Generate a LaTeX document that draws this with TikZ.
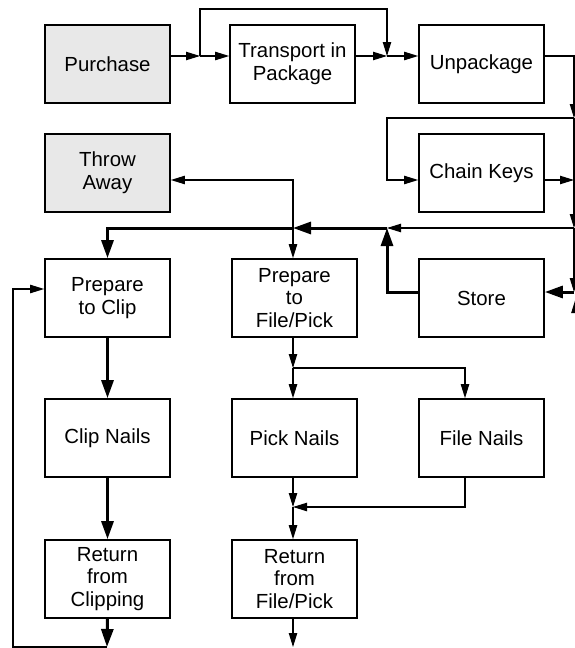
\documentclass[tikz,border=0pt]{standalone}
\usepackage{fontspec}
\setmainfont{Liberation Sans}
\usepackage{tikz}
\usetikzlibrary{arrows.meta,calc,positioning}

\begin{document}
\begin{tikzpicture}[x=0.5pt, y=-0.5pt,
    box/.style={draw, line width=0.85pt, minimum width=62.5pt,
      minimum height=39pt, inner sep=0pt, align=center,
      font=\fontsize{10.2}{11.3}\selectfont},
    shaded/.style={box, fill=black!9},
    arr/.style={line width=0.55pt, -{Triangle[length=7pt,width=4.2pt]}},
    tarr/.style={line width=1.5pt, -{Triangle[length=9pt,width=6pt]}}]
  \useasboundingbox (0,0) rectangle (574,648);
  % Boxes, row by row
  \node[shaded] (purchase) at (107.5,64) {Purchase};
  \node[box] (transport) at (292.5,64) {Transport in\\Package};
  \node[box] (unpack) at (481.5,64) {Unpackage};
  \node[shaded] (throw) at (107.5,173) {Throw\\Away};
  \node[box] (chain) at (481.5,173) {Chain Keys};
  \node[box] (prepclip) at (107.5,298) {Prepare\\to Clip};
  \node[box] (prepfp) at (294.5,298) {Prepare\\to\\File/Pick};
  \node[box] (store) at (481.5,298) {Store};
  \node[box] (clip) at (107.5,438) {Clip Nails};
  \node[box] (pick) at (294.5,438) {Pick Nails};
  \node[box] (file) at (481.5,438) {File Nails};
  \node[box] (retclip) at (107.5,579) {Return\\from\\Clipping};
  \node[box] (retfp) at (294.5,579) {Return\\from\\File/Pick};
  % Junctions
  \coordinate (j1) at (200,56);
  \coordinate (j2) at (387,56);
  \coordinate (kin) at (387,180);
  \coordinate (r1) at (574,118);
  \coordinate (r2) at (574,228);
  \coordinate (r3) at (574,292);
  \coordinate (r4) at (575.5,330);
  \coordinate (r5) at (575.5,299);
  \coordinate (j5) at (387,228);
  \coordinate (j6) at (293,228);
  \coordinate (j7) at (293,368);
  \coordinate (j8) at (293,507);
  \coordinate (j9) at (465,507);
  \coordinate (l1) at (13,289);
  \coordinate (b1) at (107,647);
  \coordinate (b2) at (293,647);
  % Top row
  \draw[arr] (purchase.east |- j1) -- (j1);
  \draw[arr] (j1) -- (transport.west |- j1);
  \draw[arr] (j1) -- ++(0,-47) -| (j2);
  \draw[arr] (transport.east |- j2) -- (j2);
  \draw[arr] (j2) -- (unpack.west |- j2);
  % Right side line
  \draw[arr] (unpack.east |- j2) -| (r1);
  \draw[arr] (r1) -- (r2);
  \draw[arr] (r2) -- (r3);
  \draw[arr] (r4) -- (r5);
  \draw[arr] (r1) -| (kin) -- (chain.west |- kin);
  \draw[arr] (chain.east |- kin) -- (kin -| r1);
  \draw[tarr] (r3) -- (store.east |- r3);
  % Back to preparing
  \draw[arr] (r2) -- (j5);
  \draw[tarr] (store.west |- r3) -| (j5);
  \draw[tarr] (j5) -- (j6);
  \draw[tarr] (j6) -| (prepclip.north);
  \draw[arr] (j6) |- (throw.east |- kin);
  \draw[arr] (j6) -- (j6 |- prepfp.north);
  % Clipping column
  \draw[tarr] (prepclip.south) -- (clip.north);
  \draw[tarr] (clip.south) -- (retclip.north);
  \draw[tarr] (retclip.south) -- (b1);
  \draw[arr] (b1) -| (l1) -- (prepclip.west |- l1);
  % File/Pick column
  \draw[arr] (prepfp.south -| j7) -- (j7);
  \draw[arr] (j7) -- (pick.north -| j7);
  \draw[arr] (j7) -| (j9 |- file.north);
  \draw[arr] (pick.south -| j8) -- (j8);
  \draw[arr] (file.south -| j9) |- (j8);
  \draw[arr] (j8) -- (retfp.north -| j8);
  \draw[arr] (retfp.south -| b2) -- (b2);
\end{tikzpicture}
\end{document}
